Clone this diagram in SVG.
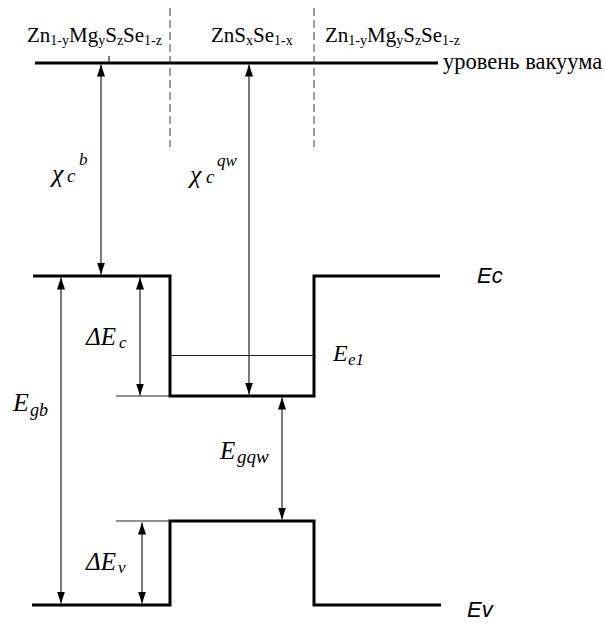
<svg xmlns="http://www.w3.org/2000/svg" width="605" height="623" viewBox="0 0 605 623">
<style>
.thick{fill:none;stroke:#000;stroke-width:3}
.thin{fill:none;stroke:#222;stroke-width:1.2}
.dash{fill:none;stroke:#7a7a7a;stroke-width:1.5;stroke-dasharray:8 4}
.arr{fill:none;stroke:#222;stroke-width:1.2;marker-start:url(#ah);marker-end:url(#ah)}
.hdr{font-family:"Liberation Serif","Times New Roman",serif;font-size:21px;fill:#000}
.sub{font-size:14px}
.lbl{font-family:"Liberation Serif","Times New Roman",serif;font-style:italic;fill:#000}
.band{font-family:"Liberation Sans",Arial,sans-serif;font-style:italic;font-size:22px;fill:#000}
</style>
<defs>
<marker id="ah" viewBox="0 0 12 8" refX="12" refY="4" markerWidth="12" markerHeight="8" markerUnits="userSpaceOnUse" orient="auto-start-reverse">
<path d="M0,0 L12,4 L0,8 z" fill="#000"/>
</marker>
</defs>

<g id="dividers">
<line class="dash" x1="170" y1="8" x2="170" y2="147"/>
<line class="dash" x1="314" y1="8" x2="314" y2="147"/>
</g>

<g id="vacuum-level">
<line class="thick" x1="35" y1="63" x2="438" y2="63"/>
<line class="thin" x1="109" y1="56" x2="109" y2="62"/>
<text x="443" y="69" class="hdr" style="font-size:22.5px">уровень вакуума</text>
</g>

<g id="layer-labels">
<text x="27" y="42" class="hdr">Zn<tspan class="sub" dy="3">1-y</tspan><tspan dy="-3">Mg</tspan><tspan class="sub" dy="3">y</tspan><tspan dy="-3">S</tspan><tspan class="sub" dy="3">z</tspan><tspan dy="-3">Se</tspan><tspan class="sub" dy="3">1-z</tspan></text>
<text x="211" y="42" class="hdr">ZnS<tspan class="sub" dy="3">x</tspan><tspan dy="-3">Se</tspan><tspan class="sub" dy="3">1-x</tspan></text>
<text x="325" y="42" class="hdr">Zn<tspan class="sub" dy="3">1-y</tspan><tspan dy="-3">Mg</tspan><tspan class="sub" dy="3">y</tspan><tspan dy="-3">S</tspan><tspan class="sub" dy="3">z</tspan><tspan dy="-3">Se</tspan><tspan class="sub" dy="3">1-z</tspan></text>
</g>

<g id="conduction-band">
<polyline class="thick" points="33,276 170,276 170,396 314,396 314,276 440,276"/>
<text x="477" y="283" class="band">Ec</text>
</g>

<g id="electron-level">
<line class="thin" x1="170" y1="355.5" x2="314" y2="355.5"/>
<text class="lbl" x="333" y="361" font-size="24">E</text>
<text class="lbl" x="348" y="365" font-size="17">e1</text>
</g>

<g id="valence-band">
<polyline class="thick" points="32,605 170,605 170,521 314,521 314,605 441,605"/>
<text x="467" y="617" class="band">Ev</text>
</g>

<g id="connectors">
<line class="thin" x1="116" y1="396" x2="170" y2="396"/>
<line class="thin" x1="116" y1="521" x2="170" y2="521"/>
<line class="arr" x1="101" y1="64.5" x2="101" y2="274.5"/>
<line class="arr" x1="249" y1="64.5" x2="249" y2="394.5"/>
<line class="arr" x1="61" y1="277.5" x2="61" y2="603.5"/>
<line class="arr" x1="140" y1="277.5" x2="140" y2="395.5"/>
<line class="arr" x1="282" y1="397.5" x2="282" y2="519.5"/>
<line class="arr" x1="142" y1="522.5" x2="142" y2="603.5"/>
</g>

<g id="labels">
<text class="lbl" x="52" y="182" font-size="26">χ</text>
<text class="lbl" x="67" y="182" font-size="19">c</text>
<text class="lbl" x="79" y="165" font-size="17">b</text>

<text class="lbl" x="190" y="183" font-size="26">χ</text>
<text class="lbl" x="206" y="183" font-size="19">c</text>
<text class="lbl" x="217" y="166" font-size="17">qw</text>

<text class="lbl" x="86" y="345" font-size="25">ΔE</text>
<text class="lbl" x="119" y="348" font-size="17">c</text>

<text class="lbl" x="86" y="570" font-size="25">ΔE</text>
<text class="lbl" x="118" y="573" font-size="17">v</text>

<text class="lbl" x="13" y="411" font-size="26">E</text>
<text class="lbl" x="30" y="416" font-size="18">gb</text>

<text class="lbl" x="220" y="459" font-size="25">E</text>
<text class="lbl" x="237" y="463" font-size="19">gqw</text>
</g>
</svg>
